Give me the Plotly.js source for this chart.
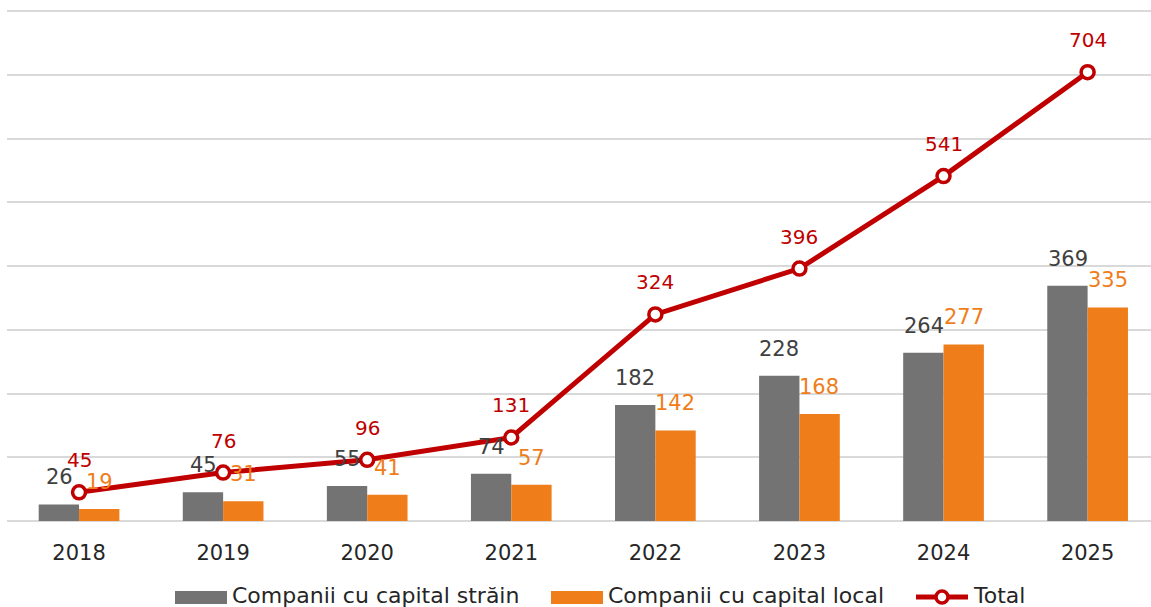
<!DOCTYPE html>
<html><head><meta charset="utf-8">
<script src="https://cdn.plot.ly/plotly-3.0.1.min.js"></script>
<style>html,body{margin:0;padding:0;background:#fff}#chart{width:1151px;height:607px}</style>
</head><body><div id="chart"></div>
<script>
const years = ['2018','2019','2020','2021','2022','2023','2024','2025'];
const foreign = [26,45,55,74,182,228,264,369];
const local = [19,31,41,57,142,168,277,335];
const total = [45,76,96,131,324,396,541,704];
const seriesNames = ['Companii cu capital străin','Companii cu capital local','Total'];
const gridVals = [100,200,300,400,500,600,700,800];

const GRAY = '#737373', ORANGE = '#EE7D1A', RED = '#C00000';
const FONT = '"DejaVu Sans", sans-serif';

const traces = [
  {type:'bar', x:years, y:foreign, name:seriesNames[0], marker:{color:GRAY}, hoverinfo:'skip', showlegend:false},
  {type:'bar', x:years, y:local, name:seriesNames[1], marker:{color:ORANGE}, hoverinfo:'skip', showlegend:false},
  {type:'scatter', mode:'lines+markers', x:years, y:total, name:seriesNames[2],
   line:{color:RED, width:5}, marker:{symbol:'circle', size:13, color:'#fff', line:{color:RED, width:3.5}},
   hoverinfo:'skip', showlegend:false}
];

const ann = [];
years.forEach((yr,i)=>{
  ann.push({x:i, y:foreign[i], xref:'x', yref:'y', text:String(foreign[i]), showarrow:false, xshift:-20, yshift:27, font:{family:FONT,size:21,color:'#404040'}});
  ann.push({x:i, y:local[i], xref:'x', yref:'y', text:String(local[i]), showarrow:false, xshift:20, yshift:27, font:{family:FONT,size:21,color:ORANGE}});
  ann.push({x:i, y:total[i], xref:'x', yref:'y', text:String(total[i]), showarrow:false, yshift:32, font:{family:FONT,size:20,color:RED}});
});

// plot spans x 7..1151 px, y 5..521 px (0.6375 px per unit)
const L = 7, W = 1144, T = 5, H = 516;
const px = v => (v - L) / W;
const py = v => (T + H - v) / H;
const legY = 595;
const shapes = [
  {type:'rect', xref:'paper', yref:'paper', x0:px(175), x1:px(227), y0:py(591), y1:py(604), fillcolor:GRAY, line:{width:0}},
  {type:'rect', xref:'paper', yref:'paper', x0:px(551), x1:px(603), y0:py(591), y1:py(604), fillcolor:ORANGE, line:{width:0}},
  {type:'line', xref:'paper', yref:'paper', x0:px(916), x1:px(968), y0:py(597), y1:py(597), line:{color:RED, width:5}},
  {type:'circle', xref:'paper', yref:'paper', x0:px(936), x1:px(948), y0:py(603), y1:py(591), fillcolor:'#fff', line:{color:RED, width:3.5}}
];
[[231,seriesNames[0]],[607,seriesNames[1]],[972,seriesNames[2]]].forEach(([x,t])=>{
  ann.push({xref:'paper', yref:'paper', x:px(x), y:py(legY), xanchor:'left', yanchor:'middle', text:t, showarrow:false, borderpad:0, font:{family:FONT,size:22,color:'#262626'}});
});

const layout = {
  width:1151, height:607,
  margin:{l:L, r:0, t:T, b:607-T-H, pad:0},
  paper_bgcolor:'#fff', plot_bgcolor:'#fff',
  barmode:'group', bargap:0.44, bargroupgap:0,
  showlegend:false,
  xaxis:{type:'category', range:[-0.5,7.44], showgrid:false, zeroline:false, showline:false, ticks:'',
         ticklabelstandoff:17, tickfont:{family:FONT,size:21,color:'#262626'}, fixedrange:true},
  yaxis:{range:[0,H/0.6375], tickvals:gridVals, showgrid:true, gridcolor:'#D9D9D9', gridwidth:2, zeroline:true, zerolinecolor:'#D9D9D9', zerolinewidth:2,
         showticklabels:false, ticks:'', fixedrange:true},
  annotations:ann, shapes:shapes
};
Plotly.newPlot('chart', traces, layout, {displayModeBar:false, staticPlot:true});
</script></body></html>
